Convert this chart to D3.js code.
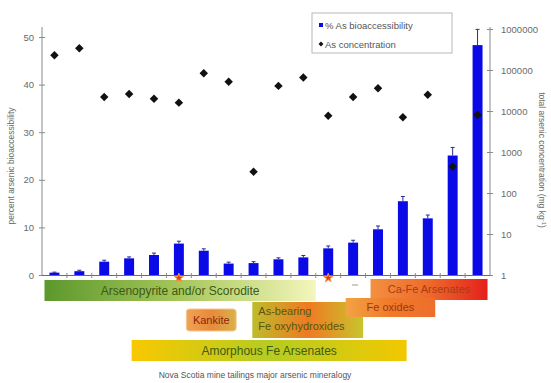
<!DOCTYPE html>
<html>
<head>
<meta charset="utf-8">
<script src="https://cdn.jsdelivr.net/npm/d3@7"></script>
<style>
  html, body { margin: 0; padding: 0; background: #fff; }
  svg { display: block; font-family: "Liberation Sans", Arial, sans-serif; }
</style>
</head>
<body>
<svg id="chart" width="551" height="383"></svg>
<script>
// samples, ordered by increasing bioaccessibility
const samples = d3.range(1, 19).map(i => 'S' + i);
const bioaccessibility = [0.5, 0.8, 2.8, 3.5, 4.2, 6.6, 5.1, 2.4, 2.5, 3.3, 3.7, 5.6, 6.8, 9.6, 15.5, 11.9, 25.1, 48.3];
const bioError = [0.1, 0.2, 0.3, 0.3, 0.4, 0.5, 0.4, 0.3, 0.3, 0.3, 0.4, 0.5, 0.5, 0.7, 1.0, 0.7, 1.7, 3.3];
const concentration = [230000, 340000, 22000, 26000, 20000, 16000, 83000, 52000, 330, 41000, 66000, 7700, 22000, 36000, 7000, 25000, 440, 8000];

const leftTicks = [0, 10, 20, 30, 40, 50];
const rightTicks = [1, 10, 100, 1000, 10000, 100000, 1000000];

// mineralogy ranges, in sample-index units along the x axis
const mineralNames = ['Arsenopyrite  and/or  Scorodite', 'Ca-Fe Arsenates', 'As-bearing|Fe oxyhydroxides', 'Fe oxides', 'Kankite', 'Amorphous  Fe Arsenates'];
const mineralStart = [0.1, 13.2, 8.45, 12.2, 5.8, 3.6];
const mineralEnd = [11.0, 17.9, 12.9, 15.8, 7.8, 14.65];
const starSamples = [5, 11];

const svg = d3.select('#chart');
const left = 42, right = 490, baseY = 275;

const x = d3.scaleBand().domain(samples).range([left, right]).paddingInner(0.6).paddingOuter(0.3);
const xi = d3.scaleLinear().domain([0, samples.length]).range([left, right]);
const yL = d3.scaleLinear().domain([0, 50]).range([baseY, 37]);
const yR = d3.scaleLog().domain([1, 1000000]).range([baseY, 29]);

const axisColor = '#8a8a8a';
const labelColor = '#6a6a6a';

// axes lines
svg.append('line').attr('x1', left).attr('x2', left).attr('y1', 27).attr('y2', baseY + 1)
  .attr('stroke', axisColor).attr('stroke-width', 1);
svg.append('line').attr('x1', right).attr('x2', right).attr('y1', 27).attr('y2', baseY + 1)
  .attr('stroke', axisColor).attr('stroke-width', 1);

const gL = svg.append('g').attr('transform', `translate(${left},0)`)
  .call(d3.axisLeft(yL).tickValues(leftTicks).tickSize(3).tickPadding(5));
gL.select('.domain').remove();
gL.selectAll('.tick line').attr('x2', 3).attr('x1', -3).attr('stroke', axisColor);
gL.selectAll('.tick text').attr('fill', labelColor).style('font-size', '9.5px');

const gR = svg.append('g').attr('transform', `translate(${right},0)`)
  .call(d3.axisRight(yR).tickValues(rightTicks).tickFormat(d3.format('d')).tickSize(3).tickPadding(8));
gR.select('.domain').remove();
gR.selectAll('.tick line').attr('x1', -3).attr('x2', 3).attr('stroke', axisColor);
gR.selectAll('.tick text').attr('fill', labelColor).style('font-size', '9.5px');

// x axis with ticks between samples
svg.append('line').attr('x1', left).attr('x2', right).attr('y1', baseY + 0.5).attr('y2', baseY + 0.5)
  .attr('stroke', '#5a6aa0').attr('stroke-width', 1);
svg.append('g').selectAll('line')
  .data(d3.range(1, samples.length))
  .join('line')
  .attr('x1', d => xi(d)).attr('x2', d => xi(d))
  .attr('y1', baseY - 2).attr('y2', baseY + 3)
  .attr('stroke', axisColor);

// axis titles
svg.append('text')
  .attr('transform', 'translate(14,166) rotate(-90)')
  .attr('text-anchor', 'middle')
  .attr('fill', labelColor)
  .style('font-size', '8.5px')
  .text('percent arsenic bioaccessibility');

svg.append('text')
  .attr('transform', 'translate(539,160) rotate(90)')
  .attr('text-anchor', 'middle')
  .attr('fill', labelColor)
  .style('font-size', '8.5px')
  .text('total arsenic concentration (mg kg')
  .append('tspan').attr('dy', -3).style('font-size', '6px').text('-1')
  .select(function () { return this.parentNode; })
  .append('tspan').attr('dy', 3).text(')');

// bars
svg.append('g').selectAll('rect')
  .data(samples)
  .join('rect')
  .attr('x', d => x(d))
  .attr('y', (d, i) => yL(bioaccessibility[i]))
  .attr('width', x.bandwidth())
  .attr('height', (d, i) => baseY - yL(bioaccessibility[i]))
  .attr('fill', '#0a0ae6');

// error bars
const eb = svg.append('g').attr('stroke', '#2a2a9a').attr('stroke-width', 1);
samples.forEach((s, i) => {
  const cx = x(s) + x.bandwidth() / 2;
  const top = yL(bioaccessibility[i] + bioError[i]);
  eb.append('line').attr('x1', cx).attr('x2', cx).attr('y1', yL(bioaccessibility[i])).attr('y2', top);
  eb.append('line').attr('x1', cx - 2).attr('x2', cx + 2).attr('y1', top).attr('y2', top);
});

// concentration diamonds
svg.append('g').selectAll('path')
  .data(samples)
  .join('path')
  .attr('transform', (d, i) => `translate(${x(d) + x.bandwidth() / 2},${yR(concentration[i])}) rotate(45)`)
  .attr('d', d3.symbol(d3.symbolSquare, 36))
  .attr('fill', '#111');

// mineralogy bands
const bandStyle = [
  { y: 280, h: 21, stops: ['#5c982c', '#a6c65a', '#f4f6bc'], text: '#3b5a16', size: 12 },
  { y: 279, h: 21, stops: ['#f29040', '#ee6a2c', '#e4201c'], text: '#a83c12', size: 11 },
  { y: 302, h: 36, stops: ['#bdbc2c', '#ef7a22', '#c8c42c'], text: '#5a5410', size: 11 },
  { y: 298, h: 19, stops: ['#f3a244', '#f07a2a', '#ee6e2c'], text: '#a03412', size: 11 },
  { y: 309, h: 22, stops: ['#eea452', '#e88a3a', '#d8b24a'], text: '#8a2410', size: 11 },
  { y: 340, h: 21, stops: ['#f8c800', '#b6cc22', '#f2c800'], text: '#3f5a12', size: 12 }
];

const defs = svg.append('defs');
bandStyle.forEach((st, i) => {
  const grad = defs.append('linearGradient').attr('id', 'band' + i);
  st.stops.forEach((c, k) => {
    grad.append('stop').attr('offset', (k / (st.stops.length - 1) * 100) + '%').attr('stop-color', c);
  });
});

const bandG = svg.append('g');
mineralNames.forEach((name, i) => {
  const st = bandStyle[i];
  const x0 = xi(mineralStart[i]), x1 = xi(mineralEnd[i]);
  bandG.append('rect')
    .attr('x', x0).attr('y', st.y)
    .attr('width', x1 - x0).attr('height', st.h)
    .attr('rx', name === 'Kankite' ? 3 : 0)
    .attr('fill', `url(#band${i})`)
    .attr('stroke', name === 'Kankite' ? '#f4c890' : 'none');
  const lines = name.split('|');
  const t = bandG.append('text')
    .attr('fill', st.text)
    .style('font-size', st.size + 'px');
  if (lines.length === 1) {
    t.attr('x', (x0 + x1) / 2).attr('y', st.y + st.h / 2 + st.size * 0.36)
      .attr('text-anchor', 'middle').text(name);
  } else {
    lines.forEach((ln, k) => {
      t.append('tspan').attr('x', x0 + 6).attr('y', st.y + 13 + k * 15).text(ln);
    });
  }
});

// star markers under selected samples
svg.append('g').selectAll('path')
  .data(starSamples)
  .join('path')
  .attr('transform', d => `translate(${x(samples[d]) + x.bandwidth() / 2},${baseY + 3})`)
  .attr('d', d3.symbol(d3.symbolStar, 26))
  .attr('fill', '#e5381a')
  .attr('stroke', '#f29a40')
  .attr('stroke-width', 1);
svg.append('line').attr('x1', 352).attr('x2', 358).attr('y1', 285).attr('y2', 285).attr('stroke', '#999');

// legend
const lg = svg.append('g').attr('transform', 'translate(312,13)');
lg.append('rect').attr('width', 140).attr('height', 40)
  .attr('fill', '#fff').attr('stroke', '#b8b8b8').attr('stroke-width', 1);
lg.append('rect').attr('x', 7).attr('y', 10).attr('width', 4).attr('height', 4).attr('fill', '#0a0ae6');
lg.append('text').attr('x', 13).attr('y', 15.5).attr('fill', '#555').style('font-size', '9.5px').text('% As bioaccessibility');
lg.append('path').attr('transform', 'translate(9,31) rotate(45)').attr('d', d3.symbol(d3.symbolSquare, 12)).attr('fill', '#111');
lg.append('text').attr('x', 13).attr('y', 34.5).attr('fill', '#555').style('font-size', '9.5px').text('As concentration');

// caption
svg.append('text')
  .attr('x', 255).attr('y', 378)
  .attr('text-anchor', 'middle')
  .attr('fill', '#555')
  .style('font-size', '8.5px')
  .text('Nova Scotia mine tailings  major arsenic mineralogy');
</script>
</body>
</html>
